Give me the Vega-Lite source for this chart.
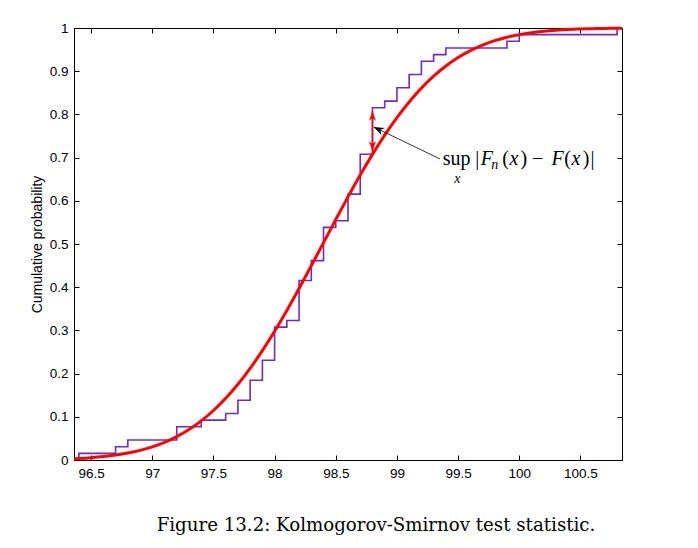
{
  "$schema": "https://vega.github.io/schema/vega-lite/v6.json",
  "width": 548,
  "height": 432,
  "autosize": "none",
  "padding": {"left": 74, "top": 28, "right": 76, "bottom": 88},
  "background": "white",
  "config": {
    "view": {"stroke": "black", "strokeWidth": 1},
    "axis": {
      "grid": false,
      "domainColor": "black",
      "domainWidth": 1,
      "tickColor": "black",
      "tickWidth": 1,
      "tickSize": -5,
      "labelFont": "Liberation Sans",
      "labelFontSize": 13.5,
      "labelColor": "black",
      "labelFlush": false,
      "labelOverlap": false,
      "titleFont": "Liberation Sans",
      "titleFontSize": 14,
      "titleFontWeight": "normal",
      "titleColor": "black"
    }
  },
  "title": {
    "text": "Figure 13.2: Kolmogorov-Smirnov test statistic.",
    "orient": "bottom",
    "anchor": "middle",
    "font": "DejaVu Serif",
    "fontSize": 18.2,
    "fontWeight": "normal",
    "color": "black",
    "offset": 37,
    "dx": 28
  },
  "datasets": {
    "ecdf": [
      {"t": 96.4, "F": 0},
      {"t": 96.4, "F": 0.01538},
      {"t": 96.7, "F": 0.03077},
      {"t": 96.8, "F": 0.04615},
      {"t": 97.2, "F": 0.07692},
      {"t": 97.4, "F": 0.09231},
      {"t": 97.6, "F": 0.10769},
      {"t": 97.7, "F": 0.13846},
      {"t": 97.8, "F": 0.18462},
      {"t": 97.9, "F": 0.23077},
      {"t": 98.0, "F": 0.30769},
      {"t": 98.1, "F": 0.32308},
      {"t": 98.2, "F": 0.41538},
      {"t": 98.3, "F": 0.46154},
      {"t": 98.4, "F": 0.53846},
      {"t": 98.5, "F": 0.55385},
      {"t": 98.6, "F": 0.61538},
      {"t": 98.7, "F": 0.70769},
      {"t": 98.8, "F": 0.81538},
      {"t": 98.9, "F": 0.83077},
      {"t": 99.0, "F": 0.86154},
      {"t": 99.1, "F": 0.89231},
      {"t": 99.2, "F": 0.92308},
      {"t": 99.3, "F": 0.93846},
      {"t": 99.4, "F": 0.95385},
      {"t": 99.9, "F": 0.96923},
      {"t": 100.0, "F": 0.98462},
      {"t": 100.8, "F": 1.0}
    ],
    "cdf": [
      {"t": 96.36, "P": 0.00311},
      {"t": 96.4, "P": 0.00366},
      {"t": 96.5, "P": 0.00543},
      {"t": 96.6, "P": 0.00792},
      {"t": 96.7, "P": 0.01135},
      {"t": 96.8, "P": 0.01602},
      {"t": 96.9, "P": 0.02225},
      {"t": 97.0, "P": 0.0304},
      {"t": 97.1, "P": 0.0409},
      {"t": 97.2, "P": 0.05415},
      {"t": 97.3, "P": 0.07059},
      {"t": 97.4, "P": 0.09063},
      {"t": 97.5, "P": 0.11461},
      {"t": 97.6, "P": 0.14278},
      {"t": 97.7, "P": 0.17533},
      {"t": 97.8, "P": 0.21218},
      {"t": 97.9, "P": 0.25322},
      {"t": 98.0, "P": 0.29809},
      {"t": 98.1, "P": 0.34628},
      {"t": 98.2, "P": 0.39708},
      {"t": 98.3, "P": 0.44971},
      {"t": 98.4, "P": 0.50323},
      {"t": 98.5, "P": 0.5567},
      {"t": 98.6, "P": 0.60915},
      {"t": 98.7, "P": 0.65969},
      {"t": 98.8, "P": 0.7075},
      {"t": 98.9, "P": 0.75194},
      {"t": 99.0, "P": 0.79247},
      {"t": 99.1, "P": 0.82884},
      {"t": 99.2, "P": 0.86084},
      {"t": 99.3, "P": 0.88841},
      {"t": 99.4, "P": 0.91199},
      {"t": 99.5, "P": 0.93157},
      {"t": 99.6, "P": 0.9476},
      {"t": 99.7, "P": 0.96051},
      {"t": 99.8, "P": 0.97069},
      {"t": 99.9, "P": 0.9786},
      {"t": 100.0, "P": 0.98465},
      {"t": 100.1, "P": 0.98912},
      {"t": 100.2, "P": 0.99243},
      {"t": 100.3, "P": 0.99482},
      {"t": 100.4, "P": 0.99651},
      {"t": 100.5, "P": 0.99769},
      {"t": 100.6, "P": 0.9985},
      {"t": 100.7, "P": 0.99904},
      {"t": 100.8, "P": 0.99939},
      {"t": 100.84, "P": 0.9995}
    ],
    "ks": [{"t": 98.8, "lo": 0.716, "hi": 0.807}],
    "pointer": [{"t0": 99.352, "p0": 0.6968, "t1": 98.81, "p1": 0.771}],
    "roman": [
      {"t": 99.374, "p": 0.683, "s": "sup"},
      {"t": 99.641, "p": 0.683, "s": "|"},
      {"t": 99.86, "p": 0.683, "s": "("},
      {"t": 100.01, "p": 0.683, "s": ")"},
      {"t": 100.104, "p": 0.683, "s": "−"},
      {"t": 100.367, "p": 0.683, "s": "("},
      {"t": 100.52, "p": 0.683, "s": ")"},
      {"t": 100.582, "p": 0.683, "s": "|"}
    ],
    "italic": [
      {"t": 99.685, "p": 0.683, "s": "F"},
      {"t": 99.92, "p": 0.683, "s": "x"},
      {"t": 100.264, "p": 0.683, "s": "F"},
      {"t": 100.428, "p": 0.683, "s": "x"}
    ],
    "small": [
      {"t": 99.8, "p": 0.6736, "s": "n", "a": "left"},
      {"t": 99.494, "p": 0.641, "s": "x", "a": "center"}
    ]
  },
  "resolve": {"axis": {"x": "independent", "y": "independent"}},
  "layer": [
    {
      "data": {"name": "ecdf"},
      "mark": {"type": "line", "interpolate": "step-after", "color": "#6a2cc4", "strokeWidth": 1.6},
      "encoding": {
        "x": {
          "field": "t", "type": "quantitative",
          "scale": {"domain": [96.36, 100.84], "nice": false, "zero": false},
          "axis": {"orient": "bottom", "values": [96.5, 97, 97.5, 98, 98.5, 99, 99.5, 100, 100.5], "format": ".1~f", "labelPadding": 11, "title": null}
        },
        "y": {
          "field": "F", "type": "quantitative",
          "scale": {"domain": [0, 1], "nice": false, "zero": false},
          "axis": {"orient": "left", "values": [0, 0.1, 0.2, 0.3, 0.4, 0.5, 0.6, 0.7, 0.8, 0.9, 1], "format": ".1~f", "labelPadding": 11, "title": "Cumulative probability", "titlePadding": 5}
        },
        "order": {"field": "F", "type": "quantitative"}
      }
    },
    {
      "data": {"name": "cdf"},
      "mark": {"type": "line", "interpolate": "monotone", "color": "#ff0000", "strokeWidth": 3},
      "encoding": {
        "x": {"field": "t", "type": "quantitative", "scale": {"domain": [96.36, 100.84], "nice": false, "zero": false},
          "axis": {"orient": "top", "values": [96.5, 97, 97.5, 98, 98.5, 99, 99.5, 100, 100.5], "labels": false, "title": null}},
        "y": {"field": "P", "type": "quantitative", "scale": {"domain": [0, 1], "nice": false, "zero": false},
          "axis": {"orient": "right", "values": [0, 0.1, 0.2, 0.3, 0.4, 0.5, 0.6, 0.7, 0.8, 0.9, 1], "labels": false, "title": null}}
      }
    },
    {
      "data": {"name": "ks"},
      "mark": {"type": "rule", "color": "#ff0000", "strokeWidth": 1.5},
      "encoding": {
        "x": {"field": "t", "type": "quantitative", "axis": null},
        "y": {"field": "lo", "type": "quantitative", "axis": null},
        "y2": {"field": "hi"}
      }
    },
    {
      "data": {"name": "ks"},
      "mark": {"type": "point", "shape": "M0,0L0.75,2L0,1.4L-0.75,2Z", "filled": true, "color": "#ff0000", "opacity": 1, "size": 90},
      "encoding": {
        "x": {"field": "t", "type": "quantitative", "axis": null},
        "y": {"field": "hi", "type": "quantitative", "axis": null}
      }
    },
    {
      "data": {"name": "ks"},
      "mark": {"type": "point", "shape": "M0,0L0.75,2L0,1.4L-0.75,2Z", "filled": true, "color": "#ff0000", "opacity": 1, "size": 90, "angle": 180},
      "encoding": {
        "x": {"field": "t", "type": "quantitative", "axis": null},
        "y": {"field": "lo", "type": "quantitative", "axis": null}
      }
    },
    {
      "data": {"name": "pointer"},
      "mark": {"type": "rule", "color": "black", "strokeWidth": 0.8},
      "encoding": {
        "x": {"field": "t0", "type": "quantitative", "axis": null},
        "y": {"field": "p0", "type": "quantitative", "axis": null},
        "x2": {"field": "t1"},
        "y2": {"field": "p1"}
      }
    },
    {
      "data": {"name": "pointer"},
      "mark": {"type": "point", "shape": "M0,0L0.75,2L0,1.4L-0.75,2Z", "filled": true, "color": "black", "opacity": 1, "size": 110, "angle": 295.5},
      "encoding": {
        "x": {"field": "t1", "type": "quantitative", "axis": null},
        "y": {"field": "p1", "type": "quantitative", "axis": null}
      }
    },
    {
      "data": {"name": "roman"},
      "mark": {"type": "text", "font": "Liberation Serif", "fontSize": 20, "align": "left", "baseline": "alphabetic", "color": "black"},
      "encoding": {
        "x": {"field": "t", "type": "quantitative", "axis": null},
        "y": {"field": "p", "type": "quantitative", "axis": null},
        "text": {"field": "s"}
      }
    },
    {
      "data": {"name": "italic"},
      "mark": {"type": "text", "font": "Liberation Serif", "fontStyle": "italic", "fontSize": 20, "align": "left", "baseline": "alphabetic", "color": "black"},
      "encoding": {
        "x": {"field": "t", "type": "quantitative", "axis": null},
        "y": {"field": "p", "type": "quantitative", "axis": null},
        "text": {"field": "s"}
      }
    },
    {
      "data": {"name": "small"},
      "mark": {"type": "text", "font": "Liberation Serif", "fontStyle": "italic", "fontSize": 14, "baseline": "alphabetic", "color": "black"},
      "encoding": {
        "x": {"field": "t", "type": "quantitative", "axis": null},
        "y": {"field": "p", "type": "quantitative", "axis": null},
        "text": {"field": "s"},
        "align": {"field": "a"}
      }
    }
  ]
}
